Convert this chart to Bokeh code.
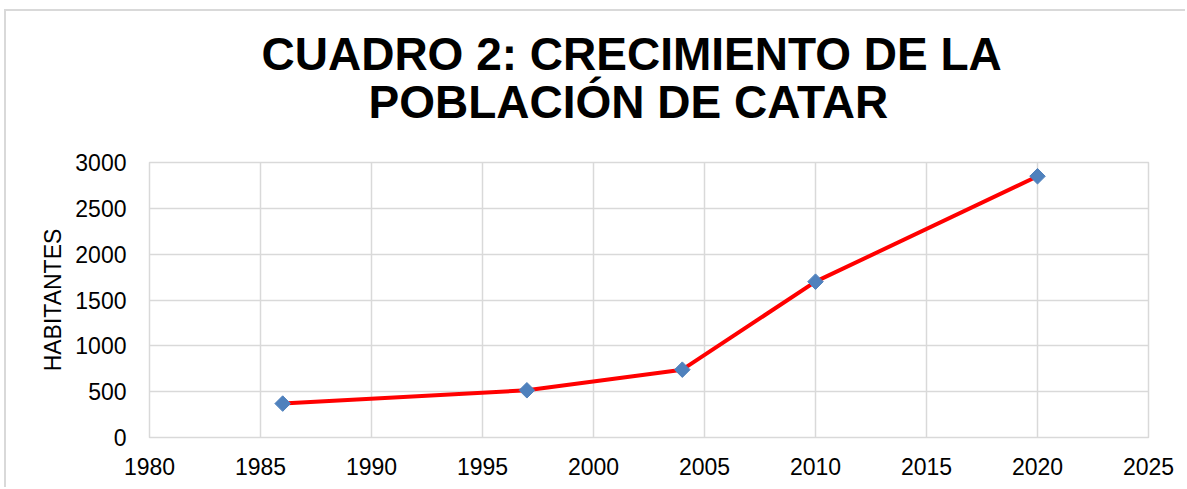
from bokeh.plotting import figure
from bokeh.models import Range1d, FixedTicker, Title
from bokeh.embed import file_html
from bokeh.resources import INLINE
import math

years = [1986, 1997, 2004, 2010, 2020]
habitantes = [370, 515, 740, 1700, 2850]
x_ticks = [1980, 1985, 1990, 1995, 2000, 2005, 2010, 2015, 2020, 2025]
y_ticks = [0, 500, 1000, 1500, 2000, 2500, 3000]
title_line1 = "CUADRO 2: CRECIMIENTO DE LA"
title_line2 = "POBLACIÓN DE CATAR"
y_label = "HABITANTES"

FONT = "Liberation Sans"
GRID = "#d9d9d9"

p = figure(width=1181, height=478, output_backend="svg", toolbar_location=None,
           x_range=Range1d(1980, 2025), y_range=Range1d(0, 3000),
           min_border_left=143, min_border_right=39, min_border_top=151, min_border_bottom=52,
           background_fill_color="white", border_fill_color="white")
p.styles = {"border-left": "2px solid #d9d9d9", "border-top": "2px solid #d9d9d9",
            "margin-left": "4px", "margin-top": "9px"}

t2 = Title(text=title_line2, align="left", text_font=FONT, text_font_size="46px",
           text_font_style="bold", text_color="black", offset=219, standoff=70)
t1 = Title(text=title_line1, align="left", text_font=FONT, text_font_size="46px",
           text_font_style="bold", text_color="black", offset=112, standoff=-83)
p.add_layout(t2, "above")
p.add_layout(t1, "above")

p.outline_line_color = GRID
p.outline_line_width = 1.5

p.xaxis.ticker = FixedTicker(ticks=x_ticks)
p.yaxis.ticker = FixedTicker(ticks=y_ticks)
for ax in (p.xaxis, p.yaxis):
    ax.axis_line_color = None
    ax.major_tick_line_color = None
    ax.minor_tick_line_color = None
    ax.major_label_text_font = FONT
    ax.major_label_text_font_size = "23px"
    ax.major_label_text_color = "black"
p.xaxis.major_label_standoff = 14
p.yaxis.major_label_standoff = 17
p.yaxis.axis_label = y_label
p.yaxis.axis_label_text_font = FONT
p.yaxis.axis_label_text_font_size = "23px"
p.yaxis.axis_label_text_font_style = "normal"
p.yaxis.axis_label_text_color = "black"
p.yaxis.axis_label_standoff = 6

p.xgrid.grid_line_color = GRID
p.ygrid.grid_line_color = GRID
p.xgrid.grid_line_width = 1.5
p.ygrid.grid_line_width = 1.5

p.line(years, habitantes, line_color="#ff0000", line_width=4)
p.scatter(years, habitantes, marker="square", size=11, angle=math.pi / 4,
          fill_color="#4f81bd", line_color="#4f81bd")

open("out.html", "w").write(file_html(p, INLINE))
